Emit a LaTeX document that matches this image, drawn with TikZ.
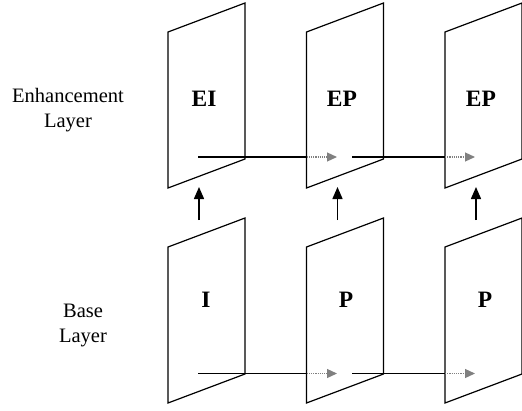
\documentclass[tikz,border=0pt]{standalone}
\usepackage{fontspec}
\setmainfont{Liberation Serif}
\usetikzlibrary{arrows.meta}
\begin{document}
\begin{tikzpicture}[x=1pt,y=-1pt,
  frame/.style={draw=black,line width=1.2pt,line join=miter},
  lbl/.style={font=\fontsize{23.5}{24}\selectfont\bfseries,inner sep=0pt},
  side/.style={font=\fontsize{20.5}{25}\selectfont,align=center,inner sep=0pt},
  solidline/.style={line width=1.3pt},
  hidden/.style={draw=gray,line width=1.2pt,densely dotted,-{Triangle[length=10pt,width=9pt,fill=gray]}},
  uparrow/.style={line width=1.5pt,-{Triangle[length=12pt,width=10pt]}}]
\useasboundingbox (0,0) rectangle (522,410);
% frames
\foreach \i in {0,1,2}{
  \pgfmathsetmacro{\L}{168+138.5*\i}
  \pgfmathsetmacro{\R}{\L+77}
  \draw[frame] (\L,32) -- (\R,3) -- (\R,159) -- (\L,188) -- cycle;
  \draw[frame] (\L,247) -- (\R,218) -- (\R,374) -- (\L,403) -- cycle;
}
% labels
\node[lbl] (ei) at (204,99) {EI};
\node[lbl] (ep1) at (342,99) {EP};
\node[lbl] (ep2) at (481,99) {EP};
\node[lbl] (i) at (206,300) {I};
\node[lbl] (p1) at (346,300) {P};
\node[lbl] (p2) at (485,300) {P};
\node[side] (enh) at (68,110) {Enhancement\\Layer};
\node[side] (base) at (83,325) {Base\\Layer};
% horizontal arrow coordinates
\foreach \y/\n in {157/t,373.5/b}{
  \coordinate (\n s1) at (198,\y);
  \coordinate (\n m1) at (306.5,\y);
  \coordinate (\n e1) at (337,\y);
  \coordinate (\n s2) at (352,\y);
  \coordinate (\n m2) at (445,\y);
  \coordinate (\n e2) at (475,\y);
}
\foreach \n in {t,b}{
  \draw[solidline] (\n s1) -- (\n m1);
  \draw[hidden] (\n m1) -- (\n e1);
  \draw[solidline] (\n s2) -- (\n m2);
  \draw[hidden] (\n m2) -- (\n e2);
}
% vertical arrows
\foreach \x/\k in {199/1,337.5/2,476/3}{
  \coordinate (vb\k) at (\x,220);
  \coordinate (vt\k) at (\x,187);
  \draw[uparrow] (vb\k) -- (vt\k);
}
\end{tikzpicture}
\end{document}
